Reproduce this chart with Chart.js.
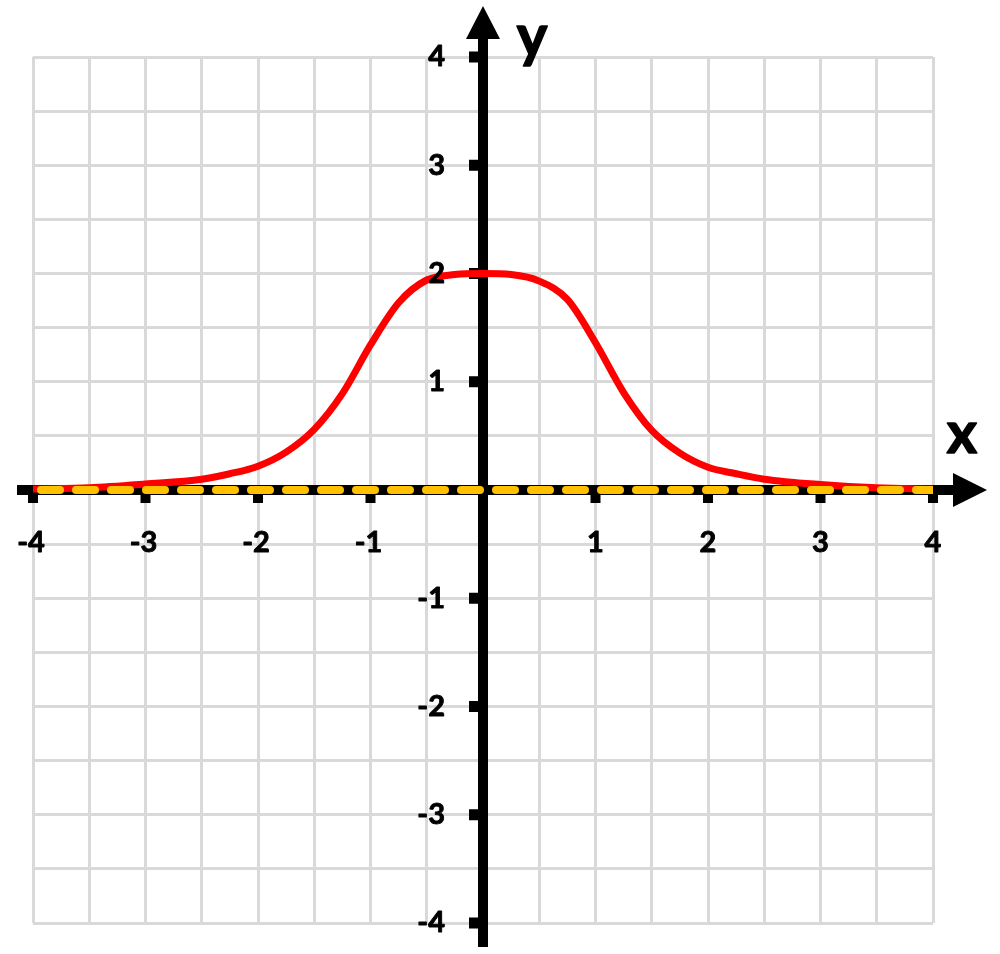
<!DOCTYPE html>
<html>
<head>
<meta charset="utf-8">
<title>Curve</title>
<script src="https://cdn.jsdelivr.net/npm/chart.js"></script>
<style>
    body { margin: 0; background: #fff; }
    #chart { display: block; }
</style>
</head>
<body>
<canvas id="chart" width="1000" height="954"></canvas>
<script>
// values
var curveX = [-4, -3.5, -3, -2.5, -2.25, -2, -1.75, -1.5, -1.25, -1, -0.75, -0.5, -0.25, 0,
              0.25, 0.5, 0.75, 1, 1.25, 1.5, 1.75, 2, 2.25, 2.5, 3, 3.5, 4];
var curveY = [0.01, 0.02, 0.055, 0.1, 0.15, 0.22, 0.35, 0.56, 0.89, 1.34, 1.73, 1.94, 1.99, 2.0,
              1.99, 1.93, 1.76, 1.36, 0.9, 0.55, 0.34, 0.21, 0.15, 0.1, 0.05, 0.02, 0.01];
var baseX = [-4, 4];
var baseY = [0, 0];
var xTicks = ['-4', '-3', '-2', '-1', '1', '2', '3', '4'];
var yTicks = ['4', '3', '2', '1', '-1', '-2', '-3', '-4'];

function points(xs, ys) {
    var out = [];
    for (var i = 0; i < xs.length; i++) {
        out.push({ x: xs[i], y: ys[i] });
    }
    return out;
}

function boldText(ctx, t, x, y) {
    ctx.fillText(t, x, y);
    ctx.strokeText(t, x, y);
}

var axesPlugin = {
    id: 'axes',
    beforeDatasetsDraw: function(chart) {
        var ctx = chart.ctx;
        var xs = chart.scales.x, ys = chart.scales.y;
        var x0 = xs.getPixelForValue(0), y0 = ys.getPixelForValue(0);
        ctx.save();
        ctx.fillStyle = '#000';

        // x axis + arrow
        ctx.fillRect(xs.left - 16, y0 - 5, xs.right + 22 - (xs.left - 16), 10);
        ctx.beginPath();
        ctx.moveTo(xs.right + 20, y0 - 17);
        ctx.lineTo(xs.right + 54, y0);
        ctx.lineTo(xs.right + 20, y0 + 17);
        ctx.closePath();
        ctx.fill();

        // y axis + arrow
        ctx.fillRect(x0 - 5, ys.top - 20, 10, ys.bottom + 24 - (ys.top - 20));
        ctx.beginPath();
        ctx.moveTo(x0 - 17, ys.top - 18);
        ctx.lineTo(x0, ys.top - 51);
        ctx.lineTo(x0 + 17, ys.top - 18);
        ctx.closePath();
        ctx.fill();

        // tick marks
        xTicks.forEach(function(t) {
            var px = xs.getPixelForValue(Number(t));
            ctx.fillRect(px - 5, y0 + 5, 10, 8);
        });
        yTicks.forEach(function(t) {
            var py = ys.getPixelForValue(Number(t));
            ctx.fillRect(x0 - 14, py - 5.5, 9, 11);
        });
        ctx.restore();
    },
    afterDatasetsDraw: function(chart) {
        var ctx = chart.ctx;
        var xs = chart.scales.x, ys = chart.scales.y;
        var x0 = xs.getPixelForValue(0), y0 = ys.getPixelForValue(0);
        ctx.save();
        ctx.fillStyle = '#000';
        ctx.strokeStyle = '#000';
        ctx.lineWidth = 0.9;
        ctx.lineJoin = 'round';
        ctx.font = 'bold 29px Lato';
        ctx.textBaseline = 'middle';

        ctx.textAlign = 'center';
        xTicks.forEach(function(t) {
            boldText(ctx, t, xs.getPixelForValue(Number(t)) - (t.charAt(0) == '-' ? 2 : 0), y0 + 53);
        });
        ctx.textAlign = 'right';
        yTicks.forEach(function(t) {
            boldText(ctx, t, x0 - 38, ys.getPixelForValue(Number(t)));
        });

        // axis names
        ctx.lineWidth = 1.5;
        ctx.font = 'bold 58px Lato';
        ctx.textAlign = 'center';
        ctx.textBaseline = 'alphabetic';
        boldText(ctx, 'x', xs.right + 29, y0 - 37);
        boldText(ctx, 'y', x0 + 49, ys.top - 1);
        ctx.restore();
    }
};

var ctx = document.getElementById('chart');
var chart = new Chart(ctx, {
    type: 'line',
    data: {
        datasets: [{
            label: 'base',
            data: points(baseX, baseY),
            borderColor: '#ffc000',
            borderWidth: 8,
            borderDash: [19, 16],
            borderDashOffset: 27,
            borderCapStyle: 'round',
            pointRadius: 0,
            fill: false
        }, {
            label: 'curve',
            data: points(curveX, curveY),
            borderColor: '#ff0000',
            borderWidth: 7,
            cubicInterpolationMode: 'monotone',
            pointRadius: 0,
            fill: false
        }]
    },
    options: {
        responsive: false,
        animation: false,
        devicePixelRatio: 1,
        layout: {
            padding: { left: 33, right: 67, top: 57, bottom: 31 }
        },
        plugins: {
            legend: { display: false },
            tooltip: { enabled: false }
        },
        scales: {
            x: {
                type: 'linear',
                min: -4,
                max: 4,
                ticks: { display: false, stepSize: 0.5 },
                grid: { color: '#d9d9d9', lineWidth: 3, drawTicks: false },
                border: { display: false }
            },
            y: {
                type: 'linear',
                min: -4,
                max: 4,
                ticks: { display: false, stepSize: 0.5 },
                grid: { color: '#d9d9d9', lineWidth: 3, drawTicks: false },
                border: { display: false }
            }
        }
    },
    plugins: [axesPlugin]
});
</script>
</body>
</html>
